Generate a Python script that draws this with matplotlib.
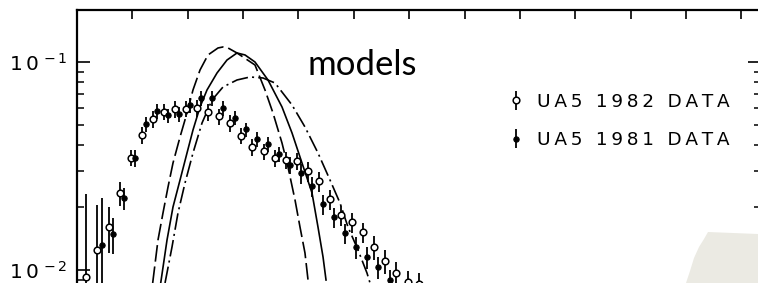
import numpy as np
import matplotlib.pyplot as plt
from matplotlib.patches import Polygon
from matplotlib.ticker import NullFormatter, LogLocator, MultipleLocator

plt.rcParams['lines.scale_dashes'] = False
plt.rcParams['font.family'] = ['DejaVu Sans']

# UA5 1982 data (open circles): charged multiplicity n, P(n), relative error
n_1982 = [2, 4, 6, 8, 10, 12, 14, 16, 18, 20, 22, 24, 26, 28, 30, 32,
          34, 36, 38, 40, 42, 44, 46, 48, 50, 52, 54, 56, 58, 60, 62]
p_1982 = [0.00929, 0.01248, 0.01615, 0.02346, 0.03467, 0.04457, 0.05321,
          0.05769, 0.05943, 0.05976, 0.06010, 0.05750, 0.05470, 0.05089,
          0.04432, 0.03903, 0.03713, 0.03455, 0.03379, 0.03342, 0.02992,
          0.02679, 0.02195, 0.01838, 0.01692, 0.01515, 0.01290, 0.01105,
          0.00967, 0.00876, 0.00860]
err_1982 = [1.5, 0.65, 0.25, 0.13, 0.09, 0.09, 0.09, 0.09, 0.09, 0.09, 0.09,
            0.09, 0.09, 0.09, 0.09, 0.09, 0.09, 0.09, 0.09, 0.09, 0.11,
            0.11, 0.11, 0.11, 0.11, 0.11, 0.13, 0.13, 0.13, 0.13, 0.13]

# UA5 1981 data (filled dots)
n_1981 = [4, 6, 8, 10, 12, 14, 16, 18, 20, 22, 24, 26, 28, 30, 32, 34,
          36, 38, 40, 42, 44, 46, 48, 50, 52, 54, 56]
p_1981 = [0.01319, 0.01490, 0.02220, 0.03455, 0.05033, 0.05813, 0.05531,
          0.05623, 0.06213, 0.06713, 0.06713, 0.06010, 0.05409, 0.04737,
          0.04264, 0.04034, 0.03611, 0.03197, 0.02926, 0.02534, 0.02077,
          0.01798, 0.01498, 0.01290, 0.01155, 0.01034, 0.00895]
err_1981 = [0.68, 0.20, 0.12, 0.09, 0.08, 0.08, 0.08, 0.08, 0.08, 0.08, 0.08,
            0.08, 0.08, 0.08, 0.08, 0.08, 0.08, 0.09, 0.11, 0.11, 0.11,
            0.11, 0.11, 0.12, 0.12, 0.12, 0.12]

# model curves
dash_n = [13.67, 14.63, 15.53, 16.44, 17.34, 18.61, 19.87, 20.95, 22.22,
          23.66, 25.47, 26.37, 27.28, 28.90, 32.15, 33.96, 35.40, 37.03,
          38.11, 39.38, 40.28, 41.18, 41.73]
dash_p = [0.00866, 0.01394, 0.01879, 0.02506, 0.03269, 0.04360, 0.05687,
          0.07335, 0.09152, 0.1081, 0.1168, 0.1181, 0.1168, 0.1105, 0.09674,
          0.07335, 0.05687, 0.04078, 0.03127, 0.02171, 0.01609, 0.01207,
          0.00895]

solid_n = [15.12, 16.26, 17.34, 18.61, 19.87, 20.95, 22.22, 23.48, 25.29,
           27.09, 28.90, 30.35, 32.15, 34.50, 37.03, 38.84, 40.64, 42.45,
           43.53, 44.44, 44.98]
solid_p = [0.00866, 0.01394, 0.02009, 0.02708, 0.03652, 0.04710, 0.06077,
           0.07335, 0.08855, 0.1022, 0.1105, 0.1081, 0.1000, 0.08195,
           0.06077, 0.04557, 0.03269, 0.02346, 0.01609, 0.01155, 0.00895]

dashdot_n = [15.90, 17.16, 18.24, 19.51, 20.95, 22.58, 24.39, 26.37, 28.90,
             31.25, 33.60, 35.77, 38.84, 41.18, 43.53, 45.70, 47.51, 48.95,
             50.76, 52.38, 52.93]
dashdot_p = [0.00866, 0.01290, 0.01879, 0.02620, 0.03652, 0.05089, 0.06567,
             0.07583, 0.08195, 0.08472, 0.08378, 0.07925, 0.06213, 0.04870,
             0.03652, 0.02708, 0.02099, 0.01609, 0.01248, 0.00967, 0.00866]


def spaced(s):
    return '\u2009'.join(s)


W, H = 758, 283
fig = plt.figure(figsize=(W / 100, H / 100), dpi=100)
ax = fig.add_axes([77 / W, -0.10106, (761 - 77) / W, 1.06572])

ax.set_yscale('log')
ax.set_xlim(0, 123.55)
ax.set_ylim(10 ** -2.2, 10 ** -0.75)

ax.plot(dash_n, dash_p, color='black', lw=1.2, dashes=(12, 3.5))
ax.plot(solid_n, solid_p, color='black', lw=1.2)
ax.plot(dashdot_n, dashdot_p, color='black', lw=1.2, dashes=(12, 3, 1.5, 3))

p82 = np.array(p_1982)
p81 = np.array(p_1981)
h82 = ax.errorbar(np.array(n_1982) - 0.3, p82, yerr=p82 * np.array(err_1982),
                  fmt='o', ms=4.8, mfc='white', mec='black', mew=1.1,
                  ecolor='black', elinewidth=1.3, capsize=0, zorder=3)
h81 = ax.errorbar(np.array(n_1981) + 0.45, p81, yerr=p81 * np.array(err_1981),
                  fmt='o', ms=3.8, mfc='black', mec='black', mew=0.8,
                  ecolor='black', elinewidth=1.3, capsize=0, zorder=3)

leg = ax.legend([h82, h81], [spaced('UA5 1982 DATA'), spaced('UA5 1981 DATA')],
                loc='center left', bbox_to_anchor=(507 / W, 1 - 121 / H),
                bbox_transform=fig.transFigure, frameon=False, fontsize=13.3,
                handlelength=1.0, handletextpad=0.6, labelspacing=1.1,
                borderpad=0, borderaxespad=0)

for s in ax.spines.values():
    s.set_linewidth(1.6)

ax.xaxis.set_major_locator(MultipleLocator(10))
ax.tick_params(axis='x', which='both', top=True, bottom=False, labelbottom=False,
               direction='in', length=6.5, width=1.2)
ax.yaxis.set_major_locator(LogLocator(base=10))
ax.yaxis.set_minor_locator(LogLocator(base=10, subs=np.arange(2, 10)))
ax.yaxis.set_minor_formatter(NullFormatter())
ax.set_yticks([1e-2, 1e-1], labels=[r'$\mathregular{1\,0^{\,-2}}$', r'$\mathregular{1\,0^{\,-1}}$'])
ax.tick_params(axis='y', which='major', left=True, right=True, direction='in',
               length=9.5, width=1.2, labelsize=14.5, pad=7)
ax.tick_params(axis='y', which='minor', left=True, right=True, direction='in',
               length=5, width=1.1)

fig.text(307 / W, 1 - 75 / H, 'models', fontsize=25, family='Lato',
         va='baseline', ha='left')

patch_px = [(708, 232), (758, 234), (758, 283), (686, 283), (690, 271),
            (694, 258), (699, 247), (704, 239)]
ax.add_patch(Polygon([(x / W, 1 - y / H) for x, y in patch_px], closed=True,
                     transform=fig.transFigure, facecolor='#ebeae3',
                     edgecolor='none', clip_on=False, zorder=5))

fig.savefig('out.png', dpi=100)
